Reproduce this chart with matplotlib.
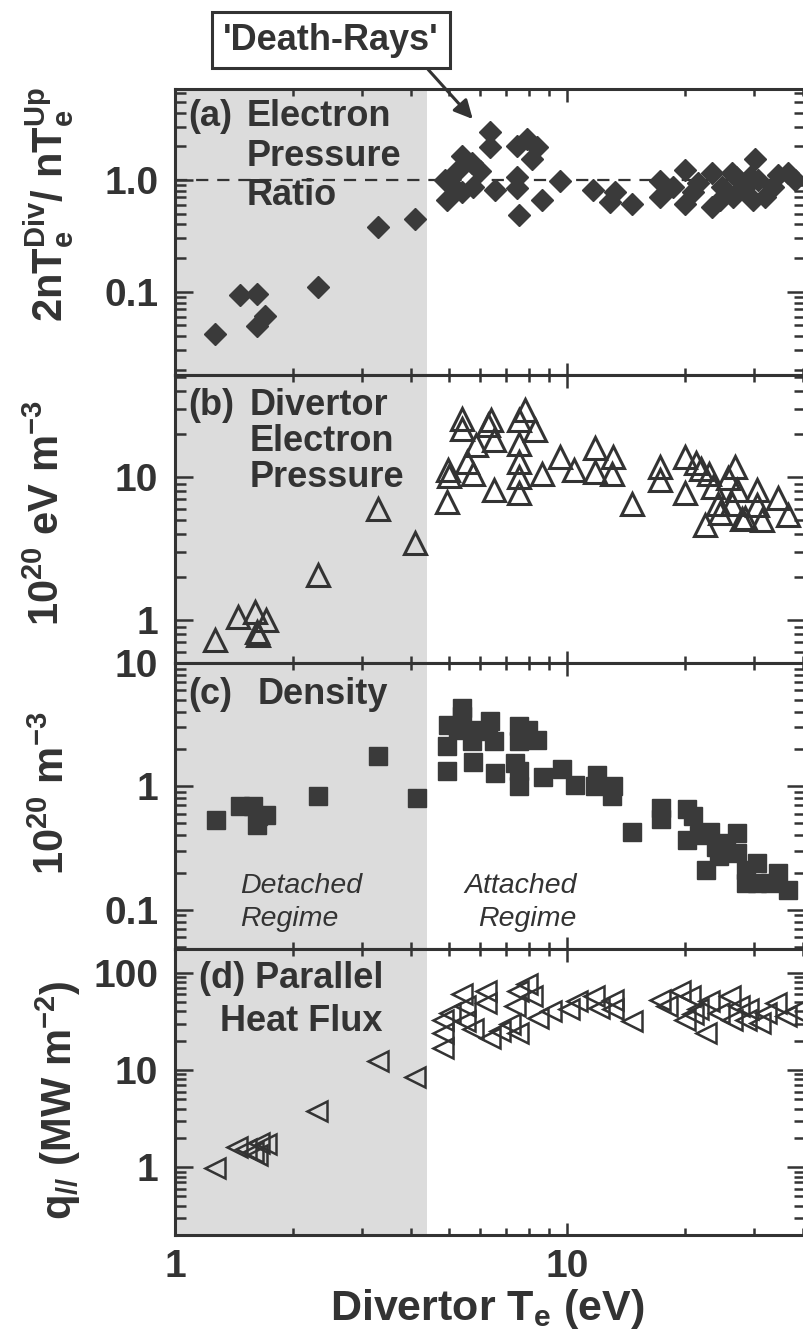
import numpy as np
import matplotlib.pyplot as plt
from matplotlib.ticker import LogLocator, NullFormatter

plt.rcParams['font.family'] = ['Liberation Sans', 'DejaVu Sans']
plt.rcParams['mathtext.fontset'] = 'custom'
plt.rcParams['mathtext.rm'] = 'Liberation Sans:bold'
plt.rcParams['mathtext.bf'] = 'Liberation Sans:bold'
plt.rcParams['mathtext.it'] = 'Liberation Sans:bold'

# ---- data (Te in eV) ----
# (a) electron pressure ratio
te_a = [1.265, 1.465, 1.62, 1.7, 1.62, 2.32, 3.3, 4.1,
        6.36, 6.36, 5.39, 5.71, 5.27, 6.0, 4.88, 4.93, 5.39, 5.77, 5.18, 6.55,
        7.44, 7.89, 8.37, 8.13, 7.44, 7.44, 7.53, 8.62, 9.6, 11.67, 12.87, 13.25,
        14.62, 17.3, 17.3, 20.0, 20.0, 21.6, 23.4, 23.4, 24.8, 26.3, 26.5, 28.5,
        30.2, 30.8, 32.0, 34.6, 36.7, 38.2, 29.9, 27.0, 21.0, 18.7, 33.5, 29.3, 24.6]
ratio_a = [0.042, 0.093, 0.096, 0.061, 0.049, 0.11, 0.38, 0.45,
           2.68, 1.95, 1.64, 1.42, 1.23, 1.19, 1.0, 0.655, 0.78, 0.87, 0.84, 0.81,
           2.02, 2.33, 1.95, 1.53, 1.07, 0.84, 0.49, 0.655, 0.97, 0.81, 0.63, 0.78,
           0.61, 0.97, 0.70, 1.23, 0.61, 0.93, 1.15, 0.57, 0.87, 1.15, 0.70, 0.87,
           1.53, 1.0, 0.70, 1.11, 1.15, 1.0, 0.66, 1.07, 0.78, 0.87, 0.87, 1.07, 0.66]

# (b) divertor electron pressure (1e20 eV m^-3)
te_b = [1.265, 1.45, 1.6, 1.71, 1.62, 1.63, 2.32, 3.3, 4.1,
        4.93, 4.98, 5.0, 5.39, 5.39, 5.77, 5.87, 5.55, 6.3, 6.42, 6.5, 6.5,
        7.53, 7.8, 8.27, 7.53, 7.53, 7.53, 7.53, 8.62, 9.6, 10.4, 11.8, 11.8,
        13.1, 13.0, 14.7, 17.3, 17.3, 20.0, 20.0, 21.3, 22.0, 22.5, 23.1, 23.6,
        24.3, 25.8, 26.8, 27.1, 27.9, 28.5, 30.5, 30.5, 31.5, 34.6, 36.7, 24.6, 26.3]
pe_b = [0.72, 1.05, 1.14, 1.0, 0.83, 0.79, 2.06, 6.03, 3.44,
        6.7, 11.2, 10.2, 25.7, 21.9, 10.6, 16.7, 12.8, 23.1, 25.0, 18.2, 8.1,
        25.0, 29.4, 21.3, 17.2, 12.8, 10.0, 7.7, 10.6, 13.9, 11.2, 15.9, 10.9,
        13.9, 10.6, 6.5, 11.8, 9.5, 13.9, 7.7, 12.5, 11.5, 4.6, 10.6, 8.6,
        6.5, 9.8, 11.8, 8.1, 5.1, 5.2, 8.1, 6.4, 5.0, 7.1, 5.4, 5.6, 6.5]

# (c) density (1e20 m^-3)
te_c = [1.27, 1.465, 1.58, 1.63, 1.71, 1.62, 2.32, 3.3, 4.14,
        5.39, 5.39, 4.98, 5.27, 4.93, 4.93, 5.71, 5.71, 5.77, 6.36, 6.3, 6.5, 6.55,
        7.53, 7.95, 8.37, 7.53, 7.36, 7.53, 7.53, 8.7, 9.7, 10.5, 11.9, 11.8,
        13.1, 13.0, 14.7, 17.4, 17.4, 20.2, 21.0, 20.2, 23.2, 22.6, 25.5, 27.1,
        27.1, 24.5, 28.7, 30.5, 30.5, 33.0, 34.6, 36.7, 28.7, 21.7, 24.0]
ne_c = [0.537, 0.69, 0.69, 0.57, 0.59, 0.49, 0.83, 1.75, 0.81,
        4.32, 3.7, 3.16, 2.88, 2.11, 1.32, 2.88, 2.32, 1.59, 3.36, 2.79, 2.32, 1.28,
        3.07, 2.88, 2.39, 2.32, 1.55, 1.32, 1.0, 1.2, 1.37, 1.03, 1.24, 1.0,
        1.0, 0.83, 0.43, 0.67, 0.54, 0.65, 0.57, 0.37, 0.43, 0.21, 0.35, 0.42,
        0.29, 0.27, 0.21, 0.24, 0.165, 0.165, 0.2, 0.145, 0.165, 0.4, 0.32]

# (d) parallel heat flux (MW m^-2)
te_d = [1.265, 1.44, 1.52, 1.58, 1.62, 1.71, 1.64, 2.3, 3.3, 4.1,
        4.83, 4.83, 4.83, 5.03, 5.39, 5.5, 5.5, 5.77, 6.2, 6.2, 6.36, 6.75, 7.17,
        7.5, 7.36, 7.5, 7.9, 8.13, 8.45, 9.1, 10.1, 10.6, 11.7, 12.1, 13.1, 13.1,
        14.7, 17.3, 18.0, 19.4, 20.6, 21.0, 21.6, 22.6, 23.1, 24.5, 26.0, 26.3,
        28.7, 29.0, 31.0, 32.2, 34.1, 36.3, 38.2, 27.5, 20.0]
q_d = [0.98, 1.6, 1.54, 1.43, 1.32, 1.73, 1.78, 3.8, 12.4, 8.4,
       17, 24.2, 33, 38.8, 60, 45.5, 32, 26.2, 65, 49, 21.5, 25.2, 29.5,
       65, 45.5, 24.2, 76, 57.5, 34.6, 40.4, 42, 51, 57.5, 43.7, 53, 42,
       32, 53, 45.5, 65, 57.5, 37.3, 42, 24.2, 51, 38.8, 57.5, 33,
       33, 42, 30.6, 38.8, 49, 36, 40.4, 45.5, 33]

INK = '#333333'
SHADE = '#dcdcdc'
detach_edge = 4.4

W_PX, H_PX = 804, 1335
fig = plt.figure(figsize=(W_PX / 100, H_PX / 100), dpi=100)

def rect(top, bottom):
    return [175 / W_PX, 1 - bottom / H_PX, 630 / W_PX, (bottom - top) / H_PX]

ax_a = fig.add_axes(rect(89, 375))
ax_b = fig.add_axes(rect(375, 663))
ax_c = fig.add_axes(rect(663, 949))
ax_d = fig.add_axes(rect(949, 1235))
axes = [ax_a, ax_b, ax_c, ax_d]

ylims = [(0.018, 6.5), (0.5, 52), (0.048, 10), (0.2, 176)]
yticks = [([0.1, 1.0], ['0.1', '1.0']),
          ([1, 10], ['1', '10']),
          ([0.1, 1, 10], ['0.1', '1', '10']),
          ([1, 10, 100], ['1', '10', '100'])]

for ax, lim, (tv, tl) in zip(axes, ylims, yticks):
    ax.set_xscale('log')
    ax.set_yscale('log')
    ax.set_xlim(1, 40.5)
    ax.set_ylim(*lim)
    ax.axvspan(1, detach_edge, color=SHADE, lw=0, zorder=0)
    ax.set_yticks(tv, tl)
    ax.yaxis.set_minor_locator(LogLocator(base=10, subs=np.arange(2, 10)))
    ax.yaxis.set_minor_formatter(NullFormatter())
    ax.xaxis.set_minor_locator(LogLocator(base=10, subs=np.arange(2, 10)))
    ax.xaxis.set_minor_formatter(NullFormatter())
    ax.set_xticks([1, 10], ['1', '10'])
    ax.tick_params(which='both', direction='in', top=True, right=True,
                   width=1.8, color=INK, labelcolor=INK, labelsize=28)
    ax.tick_params(axis='x', which='major', length=9, pad=10)
    ax.tick_params(axis='x', which='minor', length=5)
    ax.tick_params(axis='y', which='major', length=13, pad=12)
    ax.tick_params(axis='y', which='minor', length=8)
    for s in ax.spines.values():
        s.set_linewidth(2.2)
        s.set_color(INK)
    if ax is not ax_d:
        ax.tick_params(labelbottom=False)
    for lab in ax.get_xticklabels() + ax.get_yticklabels():
        lab.set_fontweight('bold')

ax_a.axhline(1.0, ls=(0, (5.5, 4)), lw=1.6, color=INK, zorder=1)
ax_a.plot(te_a, ratio_a, 'D', ms=11, color='#3a3a3a', mec='#3a3a3a', ls='none', zorder=3)
ax_b.plot(te_b, pe_b, '^', ms=16, mfc='none', mec=INK, mew=2.2, ls='none', zorder=3)
ax_c.plot(te_c, ne_c, 's', ms=13, color='#3a3a3a', mec='#3a3a3a', ls='none', zorder=3)
ax_d.plot(te_d, q_d, '<', ms=15, mfc='none', mec=INK, mew=1.8, ls='none', zorder=3)

def ftext(px, py, s, **kw):
    kw.setdefault('color', INK)
    return fig.text(px / W_PX, 1 - py / H_PX, s, **kw)

bold = dict(fontsize=26, fontweight='bold', va='baseline')
ftext(188, 126, '(a)', ha='left', **bold)
ftext(247, 126, 'Electron', ha='left', **bold)
ftext(247, 166, 'Pressure', ha='left', **bold)
ftext(247, 205, 'Ratio', ha='left', **bold)
ftext(188, 415, '(b)', ha='left', **bold)
ftext(250, 415, 'Divertor', ha='left', **bold)
ftext(250, 451, 'Electron', ha='left', **bold)
ftext(250, 487, 'Pressure', ha='left', **bold)
ftext(188, 704, '(c)', ha='left', **bold)
ftext(258, 704, 'Density', ha='left', **bold)
ftext(383, 988, '(d) Parallel', ha='right', **bold)
ftext(383, 1031, 'Heat Flux', ha='right', **bold)

ital = dict(fontsize=20.5, style='italic', va='baseline')
ftext(240, 893, 'Detached', ha='left', **ital)
ftext(240, 926, 'Regime', ha='left', **ital)
ftext(577, 893, 'Attached', ha='right', **ital)
ftext(577, 926, 'Regime', ha='right', **ital)

ylab = dict(fontsize=30, fontweight='bold', rotation=90, ha='center', va='center')
ftext(49, 205, r'2nT$_{e}^{Div}$/ nT$_{e}^{Up}$', **ylab)
ftext(48, 513, r'10$^{20}$ eV m$^{-3}$', **ylab)
ftext(53, 793, r'10$^{20}$ m$^{-3}$', **ylab)
ftext(58, 1100, r'q$_{//}$ (MW m$^{-2}$)', **ylab)

ftext(487, 1309, r'Divertor T$_{e}$ (eV)', fontsize=31, fontweight='bold',
      ha='center', va='center')

ax_a.annotate("'Death-Rays'", xy=(5.75, 3.5), xycoords='data',
              xytext=(331 / W_PX, 1 - 40 / H_PX), textcoords='figure fraction',
              ha='center', va='center', fontsize=26, fontweight='bold', color=INK,
              bbox=dict(boxstyle='square,pad=0.3', fc='white', ec=INK, lw=2.2),
              arrowprops=dict(arrowstyle='-|>', color=INK, lw=2.2, mutation_scale=28,
                              relpos=(0.9, 0.0), shrinkA=0, shrinkB=0),
              annotation_clip=False)

fig.savefig('out.png', dpi=100)
